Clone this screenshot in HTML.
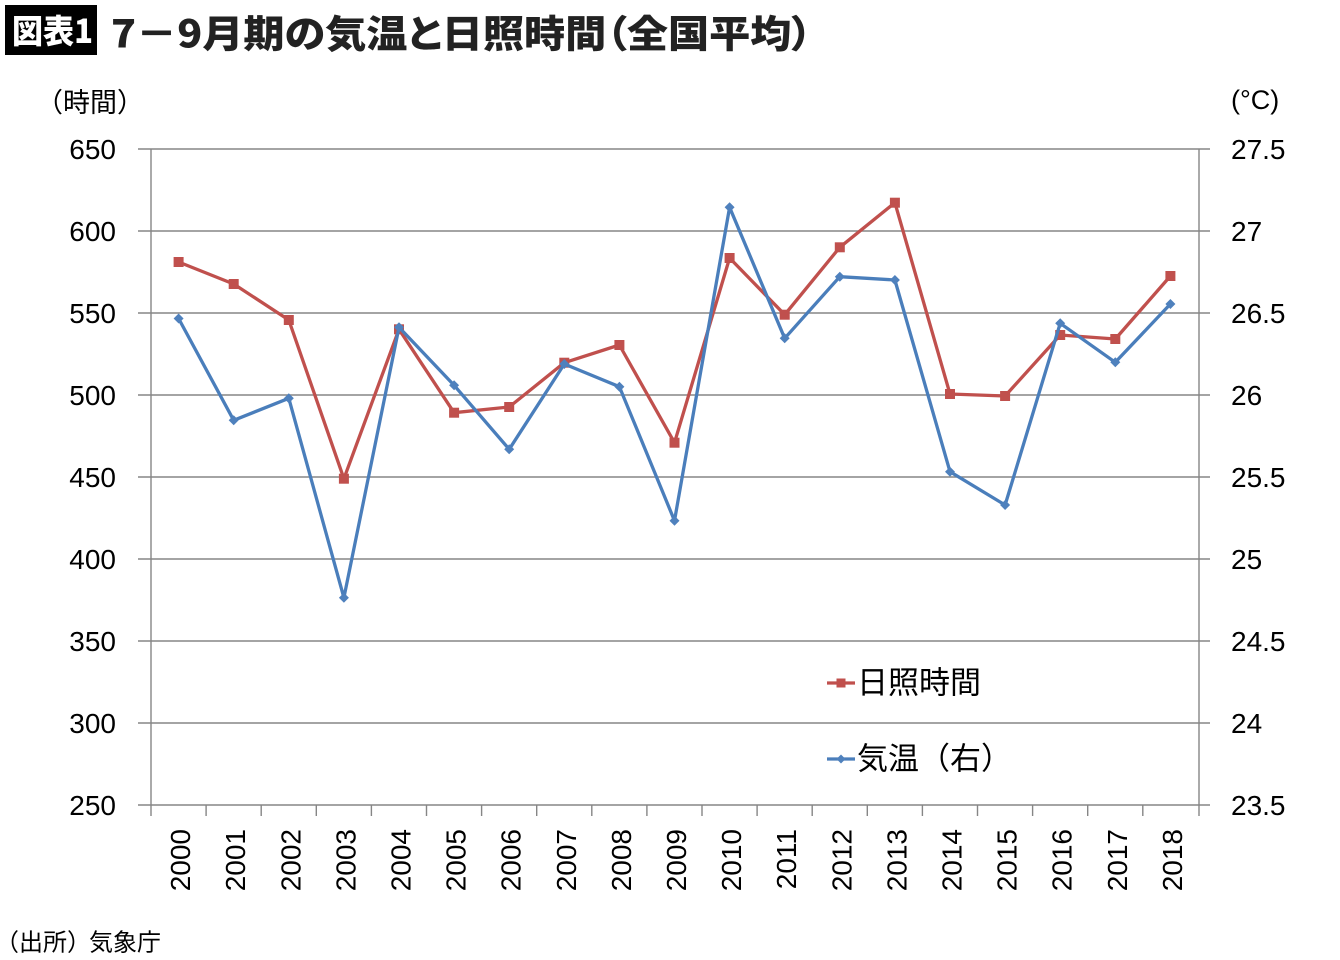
<!DOCTYPE html>
<html><head><meta charset="utf-8"><style>
html,body{margin:0;padding:0;background:#fff;}
svg{display:block;}
.num{font-family:"Liberation Sans",Arial,sans-serif;font-size:28px;fill:#000;}
.jp{font-family:"Liberation Sans","Noto Sans CJK JP",sans-serif;fill:#000;}
</style></head><body>
<svg width="1340" height="960" viewBox="0 0 1340 960" xmlns="http://www.w3.org/2000/svg">
<rect x="0" y="0" width="1340" height="960" fill="#fff"/>
<!-- Title -->
<rect x="5" y="5" width="92" height="50" fill="#000"/>
<text x="12" y="29" dominant-baseline="central" textLength="81" lengthAdjust="spacingAndGlyphs" style="font-family:'Noto Sans CJK JP',sans-serif;font-weight:900;font-size:33px;fill:#fff;">図表1</text>
<text x="111" y="31" dominant-baseline="central" textLength="701" lengthAdjust="spacingAndGlyphs" style="font-family:'Noto Sans CJK JP',sans-serif;font-weight:900;font-size:38px;fill:#222;font-feature-settings:'palt' 1;">7－9月期の気温と日照時間（全国平均）</text>

<!-- axis titles -->
<text class="jp" x="36" y="103" dominant-baseline="central" style="font-size:27px;">（時間）</text>
<text x="1231" y="100" dominant-baseline="central" style="font-family:'Liberation Sans',sans-serif;font-size:27px;fill:#000;">(°C)</text>

<!-- gridlines -->
<g stroke="#868686" stroke-width="1.4" fill="none">
<line x1="138" y1="149" x2="1210" y2="149"/>
<line x1="138" y1="231" x2="1210" y2="231"/>
<line x1="138" y1="313" x2="1210" y2="313"/>
<line x1="138" y1="395" x2="1210" y2="395"/>
<line x1="138" y1="477" x2="1210" y2="477"/>
<line x1="138" y1="559" x2="1210" y2="559"/>
<line x1="138" y1="641" x2="1210" y2="641"/>
<line x1="138" y1="723" x2="1210" y2="723"/>
<line x1="138" y1="805" x2="1210" y2="805"/>
<line x1="151" y1="149" x2="151" y2="816"/>
<line x1="1199" y1="149" x2="1199" y2="816"/>
<line x1="206.1" y1="805" x2="206.1" y2="816"/>
<line x1="261.2" y1="805" x2="261.2" y2="816"/>
<line x1="316.3" y1="805" x2="316.3" y2="816"/>
<line x1="371.4" y1="805" x2="371.4" y2="816"/>
<line x1="426.5" y1="805" x2="426.5" y2="816"/>
<line x1="481.6" y1="805" x2="481.6" y2="816"/>
<line x1="536.7" y1="805" x2="536.7" y2="816"/>
<line x1="591.8" y1="805" x2="591.8" y2="816"/>
<line x1="646.9" y1="805" x2="646.9" y2="816"/>
<line x1="702.0" y1="805" x2="702.0" y2="816"/>
<line x1="757.1" y1="805" x2="757.1" y2="816"/>
<line x1="812.2" y1="805" x2="812.2" y2="816"/>
<line x1="867.3" y1="805" x2="867.3" y2="816"/>
<line x1="922.4" y1="805" x2="922.4" y2="816"/>
<line x1="977.5" y1="805" x2="977.5" y2="816"/>
<line x1="1032.6" y1="805" x2="1032.6" y2="816"/>
<line x1="1087.7" y1="805" x2="1087.7" y2="816"/>
<line x1="1142.8" y1="805" x2="1142.8" y2="816"/>
</g>

<!-- left labels -->
<g class="num" text-anchor="end">
<text x="116" y="159">650</text>
<text x="116" y="241">600</text>
<text x="116" y="323">550</text>
<text x="116" y="405">500</text>
<text x="116" y="487">450</text>
<text x="116" y="569">400</text>
<text x="116" y="651">350</text>
<text x="116" y="733">300</text>
<text x="116" y="815">250</text>
</g>
<!-- right labels -->
<g class="num">
<text x="1231" y="159">27.5</text>
<text x="1231" y="241">27</text>
<text x="1231" y="323">26.5</text>
<text x="1231" y="405">26</text>
<text x="1231" y="487">25.5</text>
<text x="1231" y="569">25</text>
<text x="1231" y="651">24.5</text>
<text x="1231" y="733">24</text>
<text x="1231" y="815">23.5</text>
</g>

<!-- year labels -->
<g class="num" text-anchor="end">
<text transform="translate(190.1,829) rotate(-90)">2000</text>
<text transform="translate(245.2,829) rotate(-90)">2001</text>
<text transform="translate(300.3,829) rotate(-90)">2002</text>
<text transform="translate(355.4,829) rotate(-90)">2003</text>
<text transform="translate(410.5,829) rotate(-90)">2004</text>
<text transform="translate(465.6,829) rotate(-90)">2005</text>
<text transform="translate(520.7,829) rotate(-90)">2006</text>
<text transform="translate(575.8,829) rotate(-90)">2007</text>
<text transform="translate(630.9,829) rotate(-90)">2008</text>
<text transform="translate(686.0,829) rotate(-90)">2009</text>
<text transform="translate(741.1,829) rotate(-90)">2010</text>
<text transform="translate(796.2,829) rotate(-90)">2011</text>
<text transform="translate(851.3,829) rotate(-90)">2012</text>
<text transform="translate(906.4,829) rotate(-90)">2013</text>
<text transform="translate(961.5,829) rotate(-90)">2014</text>
<text transform="translate(1016.6,829) rotate(-90)">2015</text>
<text transform="translate(1071.7,829) rotate(-90)">2016</text>
<text transform="translate(1126.8,829) rotate(-90)">2017</text>
<text transform="translate(1181.9,829) rotate(-90)">2018</text>
</g>

<!-- Red series: sunshine hours -->
<polyline fill="none" stroke="#c0504d" stroke-width="3.3" stroke-linejoin="round" points="178.6,262 233.7,284 288.8,320 343.9,478.7 399,329.3 454.1,412.7 509.2,407 564.3,362.7 619.4,345 674.5,442.7 729.6,258 784.7,314.7 839.8,247.3 894.9,202.7 950,394 1005.1,396 1060.2,335 1115.3,339 1170.4,276"/>
<g fill="#c0504d">
<rect x="173.6" y="257" width="10" height="10"/>
<rect x="228.7" y="279" width="10" height="10"/>
<rect x="283.8" y="315" width="10" height="10"/>
<rect x="338.9" y="473.7" width="10" height="10"/>
<rect x="394" y="324.3" width="10" height="10"/>
<rect x="449.1" y="407.7" width="10" height="10"/>
<rect x="504.2" y="402" width="10" height="10"/>
<rect x="559.3" y="357.7" width="10" height="10"/>
<rect x="614.4" y="340" width="10" height="10"/>
<rect x="669.5" y="437.7" width="10" height="10"/>
<rect x="724.6" y="253" width="10" height="10"/>
<rect x="779.7" y="309.7" width="10" height="10"/>
<rect x="834.8" y="242.3" width="10" height="10"/>
<rect x="889.9" y="197.7" width="10" height="10"/>
<rect x="945" y="389" width="10" height="10"/>
<rect x="1000.1" y="391" width="10" height="10"/>
<rect x="1055.2" y="330" width="10" height="10"/>
<rect x="1110.3" y="334" width="10" height="10"/>
<rect x="1165.4" y="271" width="10" height="10"/>
</g>

<!-- Blue series: temperature -->
<polyline fill="none" stroke="#4a7ebb" stroke-width="3.3" stroke-linejoin="round" points="178.6,318.5 233.7,420.3 288.8,398.3 343.9,597.7 399,327.3 454.1,385.3 509.2,449.3 564.3,364 619.4,386.7 674.5,520.7 729.6,207.3 784.7,338.3 839.8,276.7 894.9,280 950,471.7 1005.1,505 1060.2,323.3 1115.3,362.3 1170.4,304"/>
<g fill="#4f81bd">
<path d="M178.6,313.5l5,5l-5,5l-5,-5z"/>
<path d="M233.7,415.3l5,5l-5,5l-5,-5z"/>
<path d="M288.8,393.3l5,5l-5,5l-5,-5z"/>
<path d="M343.9,592.7l5,5l-5,5l-5,-5z"/>
<path d="M399,322.3l5,5l-5,5l-5,-5z"/>
<path d="M454.1,380.3l5,5l-5,5l-5,-5z"/>
<path d="M509.2,444.3l5,5l-5,5l-5,-5z"/>
<path d="M564.3,359l5,5l-5,5l-5,-5z"/>
<path d="M619.4,381.7l5,5l-5,5l-5,-5z"/>
<path d="M674.5,515.7l5,5l-5,5l-5,-5z"/>
<path d="M729.6,202.3l5,5l-5,5l-5,-5z"/>
<path d="M784.7,333.3l5,5l-5,5l-5,-5z"/>
<path d="M839.8,271.7l5,5l-5,5l-5,-5z"/>
<path d="M894.9,275l5,5l-5,5l-5,-5z"/>
<path d="M950,466.7l5,5l-5,5l-5,-5z"/>
<path d="M1005.1,500l5,5l-5,5l-5,-5z"/>
<path d="M1060.2,318.3l5,5l-5,5l-5,-5z"/>
<path d="M1115.3,357.3l5,5l-5,5l-5,-5z"/>
<path d="M1170.4,299l5,5l-5,5l-5,-5z"/>
</g>

<!-- Legend -->
<line x1="827" y1="683" x2="855" y2="683" stroke="#c0504d" stroke-width="3.3"/>
<rect x="836.5" y="678.5" width="9" height="9" fill="#c0504d"/>
<text class="jp" x="857" y="683" dominant-baseline="central" style="font-size:31px;">日照時間</text>
<line x1="827" y1="759" x2="855" y2="759" stroke="#4a7ebb" stroke-width="3.3"/>
<path d="M841,754.5l4.5,4.5l-4.5,4.5l-4.5,-4.5z" fill="#4f81bd"/>
<text class="jp" x="857" y="759" dominant-baseline="central" style="font-size:31px;">気温（右）</text>

<!-- Source -->
<text class="jp" x="-5" y="943" dominant-baseline="central" style="font-size:24px;">（出所）</text>
<text class="jp" x="89" y="943" dominant-baseline="central" style="font-size:24px;">気象庁</text>
</svg>
</body></html>
